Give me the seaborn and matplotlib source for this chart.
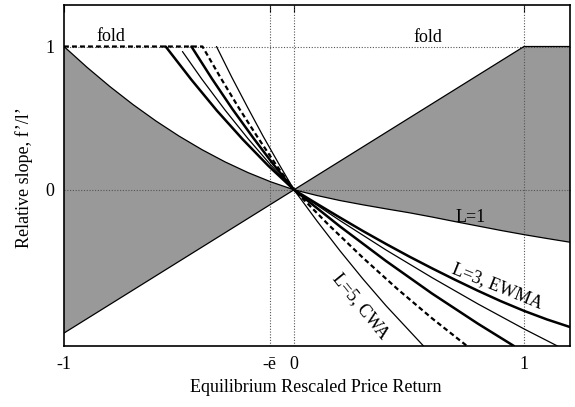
import numpy as np
import matplotlib
matplotlib.use("Agg")
import matplotlib.pyplot as plt
import seaborn as sns

# L=1 curve, edge of the grey region
l1_x = [-1.0, -0.9, -0.8, -0.7, -0.6, -0.5, -0.4, -0.3, -0.2, -0.1, 0.0,
        0.1, 0.2, 0.3, 0.4, 0.5, 0.6, 0.7, 0.8, 0.9, 1.0, 1.1, 1.2]
l1_y = [1.0, 0.855, 0.72, 0.595, 0.48, 0.375, 0.28, 0.195, 0.12, 0.055, 0.0,
        -0.04, -0.075, -0.105, -0.133, -0.16, -0.19, -0.222, -0.253, -0.284, -0.313, -0.34, -0.366]

# straight edge of the grey region (f'/l' = x, capped at the fold)
diag_x = [-1.0, 0.0, 1.0, 1.2]
diag_y = [-1.0, 0.0, 1.0, 1.0]

# L=3, EWMA (thick)
ewma_x = [-0.558, -0.446, -0.335, -0.223, -0.112, 0.0,
          0.1, 0.2, 0.3, 0.4, 0.5, 0.6, 0.7, 0.8, 0.9, 1.0, 1.1, 1.2]
ewma_y = [1.0, 0.768, 0.552, 0.352, 0.168, 0.0,
          -0.098, -0.194, -0.288, -0.378, -0.465, -0.548, -0.628, -0.705, -0.778, -0.845, -0.905, -0.958]

# thin curve between
thin2_x = [-0.485, -0.40, -0.30, -0.20, -0.10, 0.0, 0.2, 0.4, 0.6, 0.8, 1.0, 1.145]
thin2_y = [0.965, 0.771, 0.557, 0.357, 0.171, 0.0, -0.215, -0.42, -0.613, -0.797, -0.971, -1.09]

# thick curve between
thick3_x = [-0.446, -0.357, -0.268, -0.178, -0.089, 0.0, 0.2, 0.4, 0.6, 0.8, 0.956]
thick3_y = [1.0, 0.776, 0.564, 0.364, 0.176, 0.0, -0.256, -0.497, -0.724, -0.935, -1.09]

# dashed curve, runs along the fold first
dash_x = [-1.0, -0.398, -0.318, -0.239, -0.159, -0.08, 0.0, 0.15, 0.3, 0.45, 0.6, 0.752]
dash_y = [1.0, 1.0, 0.779, 0.569, 0.369, 0.179, 0.0, -0.244, -0.475, -0.693, -0.897, -1.09]

# L=5, CWA (thin)
cwa_x = [-0.337, -0.27, -0.202, -0.135, -0.067, 0.0, 0.1, 0.2, 0.3, 0.4, 0.563]
cwa_y = [1.0, 0.784, 0.576, 0.376, 0.184, 0.0, -0.218, -0.426, -0.623, -0.809, -1.09]

xtick_pos = [-1, -0.105, 0, 1]
xtick_lab = ['-1', '-ē', '0', '1']
ytick_pos = [0, 1]
ytick_lab = ['0', '1']

sns.set_style("white")
plt.rcParams['font.family'] = ['Liberation Serif', 'DejaVu Serif']
plt.rcParams['text.color'] = 'black'
plt.rcParams['axes.labelcolor'] = 'black'

fig = plt.figure(figsize=(5.75, 4.07), dpi=100)
ax = fig.add_axes([0.1113, 0.150, 0.880, 0.8378])

# grey regions
left_px = l1_x[:11] + diag_x[:2][::-1]
left_py = l1_y[:11] + diag_y[:2][::-1]
ax.fill(left_px, left_py, color='#999999', lw=0, zorder=1)
right_px = diag_x[1:] + l1_x[10:][::-1]
right_py = diag_y[1:] + l1_y[10:][::-1]
ax.fill(right_px, right_py, color='#999999', lw=0, zorder=1)

# dotted guides
dot = dict(color='#555555', lw=0.8, ls=(0, (1, 1.5)), zorder=2)
for xv in [-0.105, 0, 1]:
    ax.axvline(xv, **dot)
for yv in [0, 1]:
    ax.axhline(yv, **dot)

# boundaries
sns.lineplot(x=l1_x, y=l1_y, sort=False, estimator=None, color='black', linewidth=0.9, ax=ax, zorder=3)
sns.lineplot(x=diag_x, y=diag_y, sort=False, estimator=None, color='black', linewidth=0.9, ax=ax, zorder=3)

# model curves
sns.lineplot(x=ewma_x, y=ewma_y, sort=False, estimator=None, color='black', linewidth=1.8, ax=ax, zorder=4)
sns.lineplot(x=thin2_x, y=thin2_y, sort=False, estimator=None, color='black', linewidth=0.9, ax=ax, zorder=4)
sns.lineplot(x=thick3_x, y=thick3_y, sort=False, estimator=None, color='black', linewidth=1.8, ax=ax, zorder=4)
sns.lineplot(x=dash_x, y=dash_y, sort=False, estimator=None, color='black', linewidth=1.6,
             linestyle=(0, (2.2, 1.4)), ax=ax, zorder=4)
sns.lineplot(x=cwa_x, y=cwa_y, sort=False, estimator=None, color='black', linewidth=0.9, ax=ax, zorder=4)

# annotations
ax.text(-0.797, 1.07, 'fold', fontsize=13, ha='center', va='center')
ax.text(0.584, 1.065, 'fold', fontsize=13, ha='center', va='center')
ax.text(0.767, -0.196, 'L=1', fontsize=13, ha='center', va='center')
ax.text(0.885, -0.675, 'L=3, EWMA', fontsize=13, ha='center', va='center', rotation=-22,
        rotation_mode='anchor')
ax.text(0.288, -0.815, 'L=5, CWA', fontsize=13, ha='center', va='center', rotation=-51,
        rotation_mode='anchor')

ax.set_xlim(-1.0, 1.2)
ax.set_ylim(-1.09, 1.29)
ax.set_xticks(xtick_pos)
ax.set_xticklabels(xtick_lab)
ax.set_yticks(ytick_pos)
ax.set_yticklabels(ytick_lab)
ax.tick_params(direction='in', top=True, right=True, length=5, width=0.8,
               labelsize=13, pad=7, colors='black')
for s in ax.spines.values():
    s.set_color('black')
    s.set_linewidth(1.2)

ax.set_xlabel('Equilibrium Rescaled Price Return', fontsize=13)
ax.set_ylabel('Relative slope, f’/l’', fontsize=13)
ax.xaxis.set_label_coords(0.498, -0.097)
ax.yaxis.set_label_coords(-0.062, 0.493)

fig.savefig('out.png', dpi=100)
